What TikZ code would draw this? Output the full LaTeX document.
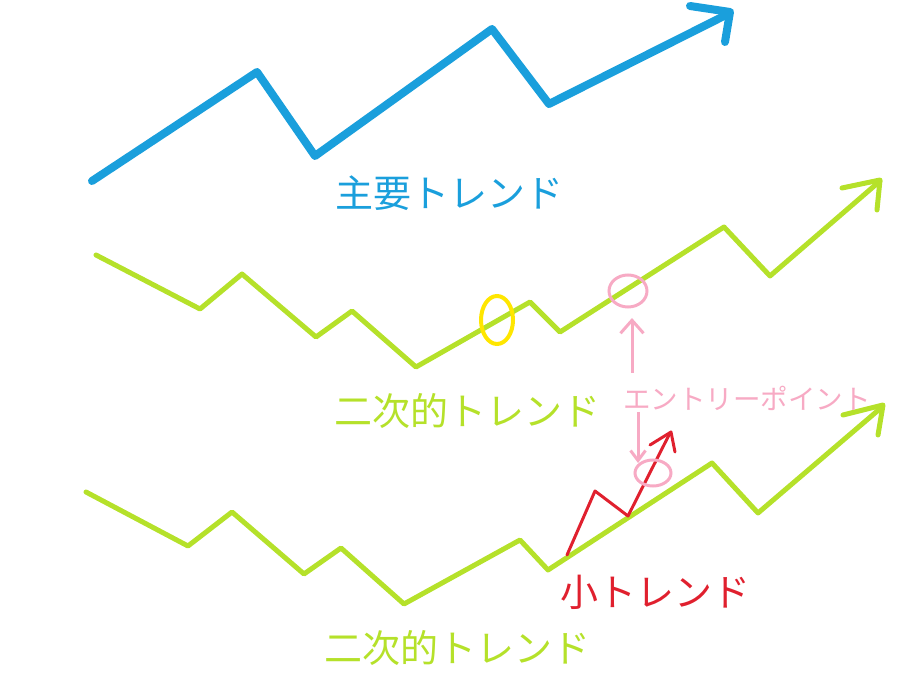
\documentclass[tikz,border=0pt]{standalone}
\usepackage{fontspec}
\setmainfont{Noto Sans CJK JP}
\usepackage{tikz}
\usetikzlibrary{arrows.meta}

\definecolor{mainblue}{HTML}{1A9FDC}
\definecolor{secgreen}{HTML}{B5E12A}
\definecolor{minorred}{HTML}{E0202E}
\definecolor{entrypink}{HTML}{F7AAC4}
\definecolor{markyellow}{HTML}{FFE600}

\tikzset{
    trendline/.style={line join=round, line cap=round},
    trendlabel/.style={inner sep=0pt, font=\fontsize{38}{38}\selectfont},
}

\begin{document}
\begin{tikzpicture}[x=1pt, y=-1pt]
\useasboundingbox (0, 0) rectangle (900, 700);
% main trend
\draw[trendline, mainblue, line width=8] (92, 181) -- (257, 72) -- (315, 156) -- (492, 29) -- (549, 104) -- (728, 14);
\draw[trendline, mainblue, line width=8] (690, 6) -- (730, 12) -- (725, 42);
\node[trendlabel, text=mainblue] (mainlabel) at (449, 193) {主要トレンド};

% secondary trend (upper)
\draw[trendline, secgreen, line width=5] (96, 255) -- (200, 309) -- (242, 274) -- (316, 337) -- (352, 311) -- (416, 367)
    -- (530, 302) -- (560, 332) -- (724, 227) -- (770, 276) -- (880, 181);
\draw[trendline, secgreen, line width=5] (842, 188) -- (880, 180) -- (877, 210);
\node[trendlabel, text=secgreen] (seclabel) at (467, 411) {二次的トレンド};
\draw[markyellow, line width=4] (497, 320) ellipse [x radius=16, y radius=24];

% secondary trend (lower)
\draw[trendline, secgreen, line width=5] (86, 492) -- (188, 546) -- (232, 512) -- (304, 574) -- (341, 548) -- (404, 604)
    -- (520, 540) -- (548, 570) -- (712, 463) -- (758, 513) -- (882, 407);
\draw[trendline, secgreen, line width=5] (843, 415) -- (883, 405) -- (878, 435);
\node[trendlabel, text=secgreen] (seclabeltwo) at (457, 648) {二次的トレンド};

% minor trend
\draw[trendline, minorred, line width=3] (567, 555) -- (595, 491) -- (628, 516) -- (670, 433);
\draw[trendline, minorred, line width=3] (650, 445) -- (671, 432) -- (675, 452);
\node[trendlabel, text=minorred] (minorlabel) at (655, 592) {小トレンド};

% entry points
\draw[entrypink, line width=3] (628, 291) ellipse [x radius=19, y radius=16];
\draw[entrypink, line width=3] (653, 473) ellipse [x radius=18, y radius=13];
\node[inner sep=0pt, text=entrypink, font=\fontsize{27.5}{27.5}\selectfont] (entrylabel) at (747, 398) {エントリーポイント};
\draw[entrypink, line width=3, -{Straight Barb[length=13pt, width=23pt]}] (632, 373) -- (632, 318);
\draw[entrypink, line width=3, -{Straight Barb[length=10pt, width=15pt]}] (638, 412) -- (638, 463);
\end{tikzpicture}
\end{document}
